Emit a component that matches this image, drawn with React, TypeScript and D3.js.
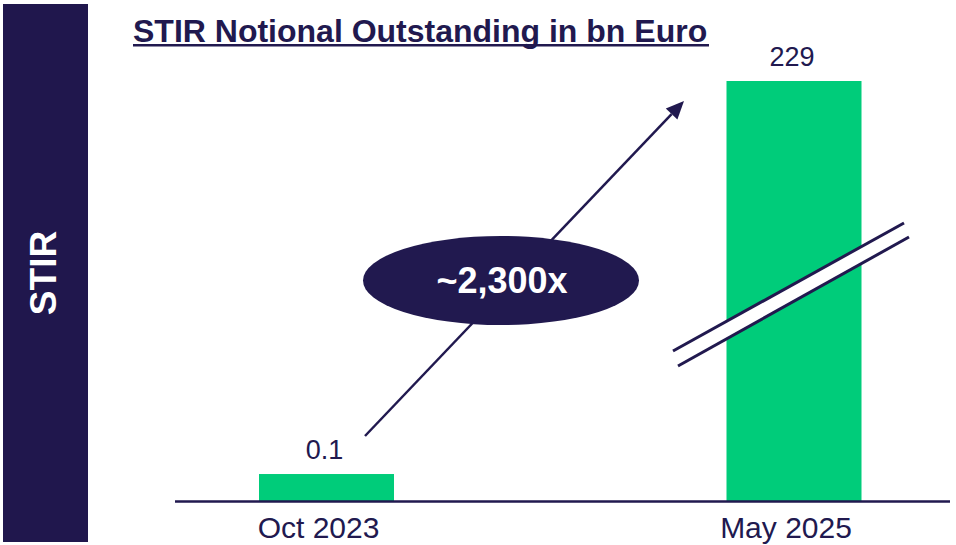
import React from "react";
import * as d3 from "d3";

const categories = ["Oct 2023", "May 2025"];
const values = [0.1, 229];
const valueLabels = ["0.1", "229"];
const multipleLabel = "~2,300x";
const titleText = "STIR Notional Outstanding in bn Euro";
const sideLabel = "STIR";

const W = 956;
const H = 545;
const NAVY = "#21194f";
const GREEN = "#00cc7a";
const FONT = "'Liberation Sans', Arial, Helvetica, sans-serif";

export default function App() {
  const x = d3.scalePoint<string>().domain(categories).range([326.5, 794]);
  // broken axis: log scale so the tiny bar stays visible
  const y = d3.scaleLog().domain([0.0588, 229]).range([501, 81]);
  const barW = 135;

  // arrow
  const start: [number, number] = [365, 436];
  const tip: [number, number] = [684, 101];
  const dx = tip[0] - start[0];
  const dy = tip[1] - start[1];
  const len = Math.hypot(dx, dy);
  const ux = dx / len;
  const uy = dy / len;
  const headL = 18;
  const headW = 8;
  const bx = tip[0] - headL * ux;
  const by = tip[1] - headL * uy;
  const px = -uy;
  const py = ux;
  const head = [
    [tip[0], tip[1]],
    [bx + headW * px, by + headW * py],
    [bx - headW * px, by - headW * py],
  ];

  // break marks
  const b1a = [673, 351], b1b = [904, 223];
  const b2a = [678, 366], b2b = [909, 237];

  return (
    <svg
      width={W}
      height={H}
      style={{ position: "absolute", left: 0, top: 0, background: "#fff" }}
      fontFamily={FONT}
    >
      <rect x={0} y={0} width={W} height={H} fill="#fff" />
      {/* side panel */}
      <rect x={3} y={4} width={85} height={538} fill="#20174d" />
      <text
        transform={`translate(56,273) rotate(-90)`}
        textAnchor="middle"
        fill="#fff"
        fontWeight="bold"
        fontSize={37}
      >
        {sideLabel}
      </text>

      {/* title */}
      <text x={133} y={42} fill={NAVY} fontWeight="bold" fontSize={32}>
        {titleText}
      </text>
      <rect x={133} y={44} width={576} height={2.5} fill={NAVY} />

      {/* bars */}
      {categories.map((c, i) => (
        <rect
          key={c}
          x={(x(c) as number) - barW / 2}
          y={y(values[i])}
          width={barW}
          height={501 - y(values[i])}
          fill={GREEN}
        />
      ))}

      {/* value labels */}
      {categories.map((c, i) => (
        <text
          key={"v" + c}
          x={(x(c) as number) - 2}
          y={y(values[i]) - 15}
          textAnchor="middle"
          fill={NAVY}
          fontSize={27}
        >
          {valueLabels[i]}
        </text>
      ))}

      {/* axis */}
      <line x1={175} x2={950} y1={501.5} y2={501.5} stroke={NAVY} strokeWidth={2.5} />

      {/* category labels */}
      {categories.map((c) => (
        <text
          key={"c" + c}
          x={(x(c) as number) - 8}
          y={538}
          textAnchor="middle"
          fill={NAVY}
          fontSize={30}
        >
          {c}
        </text>
      ))}

      {/* break marks */}
      <polygon
        points={[b1a, b1b, b2b, b2a].map((p) => p.join(",")).join(" ")}
        fill="#fff"
      />
      <line x1={b1a[0]} y1={b1a[1]} x2={b1b[0]} y2={b1b[1]} stroke={NAVY} strokeWidth={3} />
      <line x1={b2a[0]} y1={b2a[1]} x2={b2b[0]} y2={b2b[1]} stroke={NAVY} strokeWidth={3} />

      {/* growth arrow */}
      <line x1={start[0]} y1={start[1]} x2={bx} y2={by} stroke={NAVY} strokeWidth={2.5} />
      <polygon points={head.map((p) => p.join(",")).join(" ")} fill={NAVY} />

      {/* multiple bubble */}
      <ellipse cx={501} cy={280.5} rx={138} ry={44.5} fill={NAVY} />
      <text
        x={502}
        y={293}
        textAnchor="middle"
        fill="#fff"
        fontWeight="bold"
        fontSize={36}
      >
        {multipleLabel}
      </text>
    </svg>
  );
}
